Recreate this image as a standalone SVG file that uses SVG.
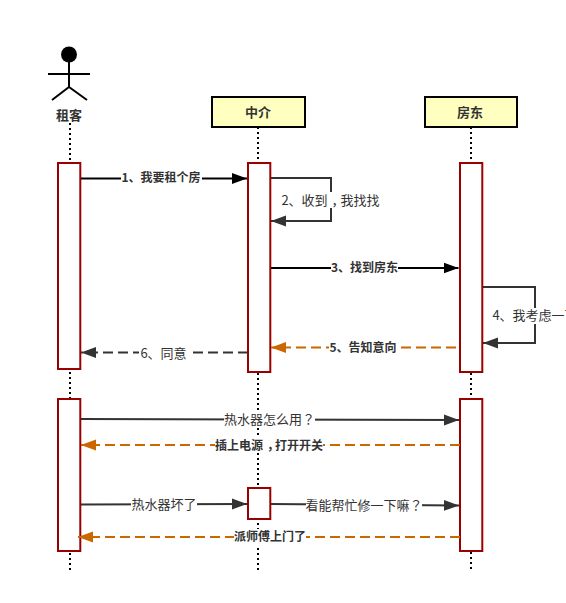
<svg xmlns="http://www.w3.org/2000/svg" width="566" height="603" viewBox="0 0 566 603">
<style>
text{font-family:"Noto Sans CJK SC","Liberation Sans",sans-serif;font-size:13px;fill:#333;text-anchor:middle}
.b{font-weight:700;font-size:12px}
.p{font-family:"Noto Sans CJK TC","Liberation Sans",sans-serif}
.act{fill:#fff;stroke:#990000;stroke-width:2}
.box{fill:#ffffc0;stroke:#000;stroke-width:2}
.life{stroke:#000;stroke-width:2;stroke-dasharray:2 3;fill:none}
.m{fill:none;stroke:#333;stroke-width:2}
.k{stroke:#000}
.o{stroke:#cc6600;stroke-dasharray:10 5}
.d{stroke-dasharray:10 5}
.bg{fill:#fff}
</style>
<defs>
<marker id="ak" markerUnits="userSpaceOnUse" markerWidth="16" markerHeight="12" refX="15" refY="6" orient="auto"><path d="M0 0.500L15 6L0 11.500Z" fill="#000"/></marker>
<marker id="ag" markerUnits="userSpaceOnUse" markerWidth="16" markerHeight="12" refX="15" refY="6" orient="auto"><path d="M0 0.500L15 6L0 11.500Z" fill="#333"/></marker>
<marker id="ao" markerUnits="userSpaceOnUse" markerWidth="16" markerHeight="12" refX="15" refY="6" orient="auto"><path d="M0 0.500L15 6L0 11.500Z" fill="#cc6600"/></marker>
</defs>
<g id="lifelines">
<path class="life" d="M70 123V163M70 372V399M70 553V570"/>
<path class="life" d="M258 127V163M258 373V570"/>
<path class="life" d="M471 127V163M471 373V399M471 552V570"/>
</g>
<g id="actor-tenant">
<circle cx="69" cy="54.500" r="8" fill="#000"/>
<path d="M69 62V87M48 74H90M69 87L52 100M69 87L87 100" fill="none" stroke="#000" stroke-width="2"/>
<text class="b" x="69" y="120" style="font-size:13px">租客</text>
</g>
<g id="node-agent"><rect class="box" x="212" y="97" width="93" height="30"/><text class="b" x="258" y="116.500" style="font-size:13px">中介</text></g>
<g id="node-landlord"><rect class="box" x="425" y="97" width="92" height="30"/><text class="b" x="470" y="116.500" style="font-size:13px">房东</text></g>
<g id="activations">
<rect class="act" x="58" y="163" width="22.300" height="206"/>
<rect class="act" x="248" y="163" width="22.300" height="209"/>
<rect class="act" x="460" y="163" width="22.300" height="209"/>
<rect class="act" x="58" y="399" width="22.300" height="152"/>
<rect class="act" x="460" y="399" width="22.300" height="152"/>
<rect class="act" x="248" y="488" width="22.300" height="31"/>
</g>
<g id="connectors">
<path class="m k" d="M81 178.500H247" marker-end="url(#ak)"/>
<path class="m" d="M271 178H331V221H271" marker-end="url(#ag)"/>
<path class="m k" d="M271 268H458.500" marker-end="url(#ak)"/>
<path class="m" d="M483 287H535V343H483" marker-end="url(#ag)"/>
<path class="m o" d="M456 347.500H271" marker-end="url(#ao)"/>
<path class="m d" d="M248 352.500H81" marker-end="url(#ag)"/>
<path class="m" d="M81 419L459 420" marker-end="url(#ag)"/>
<path class="m o" d="M460 445H81" marker-end="url(#ao)"/>
<path class="m" d="M81 504.500L247 504" marker-end="url(#ag)"/>
<path class="m" d="M271 504L459 505.500" marker-end="url(#ag)"/>
<path class="m o" d="M460 537H78" marker-end="url(#ao)"/>
</g>
<g id="labels">
<rect class="bg" x="121" y="170" width="81" height="16"/><text class="b" x="161" y="182">1、我要租个房</text>
<rect class="bg" x="281" y="192" width="99" height="16"/><text x="330.500" y="205">2、收到<tspan dx="4">，</tspan><tspan dx="-4">我找找</tspan></text>
<rect class="bg" x="331" y="260" width="67" height="16"/><text class="b" x="364.500" y="272">3、找到房东</text>
<rect class="bg" x="491" y="308" width="75" height="16"/><text x="535" y="320">4、我考虑一下</text>
<rect class="bg" x="329" y="339" width="68" height="16"/><text class="b" x="363" y="352">5、告知意向</text>
<rect class="bg" x="139" y="345" width="49" height="16"/><text x="163.500" y="358">6、同意</text>
<rect class="bg" x="224" y="411" width="91" height="16"/><text x="269.500" y="424">热水器怎么用<tspan class="p">？</tspan></text>
<rect class="bg" x="215" y="437" width="108" height="16"/><text class="b" x="269" y="450">插上电源<tspan dx="4">，</tspan><tspan dx="-4">打开开关</tspan></text>
<rect class="bg" x="131" y="497" width="66" height="16"/><text x="164" y="509">热水器坏了</text>
<rect class="bg" x="306" y="497" width="116" height="16"/><text x="364" y="510">看能帮忙修一下嘛<tspan class="p">？</tspan></text>
<rect class="bg" x="234" y="529" width="72" height="16"/><text class="b" x="270" y="541">派师傅上门了</text>
</g>
</svg>
